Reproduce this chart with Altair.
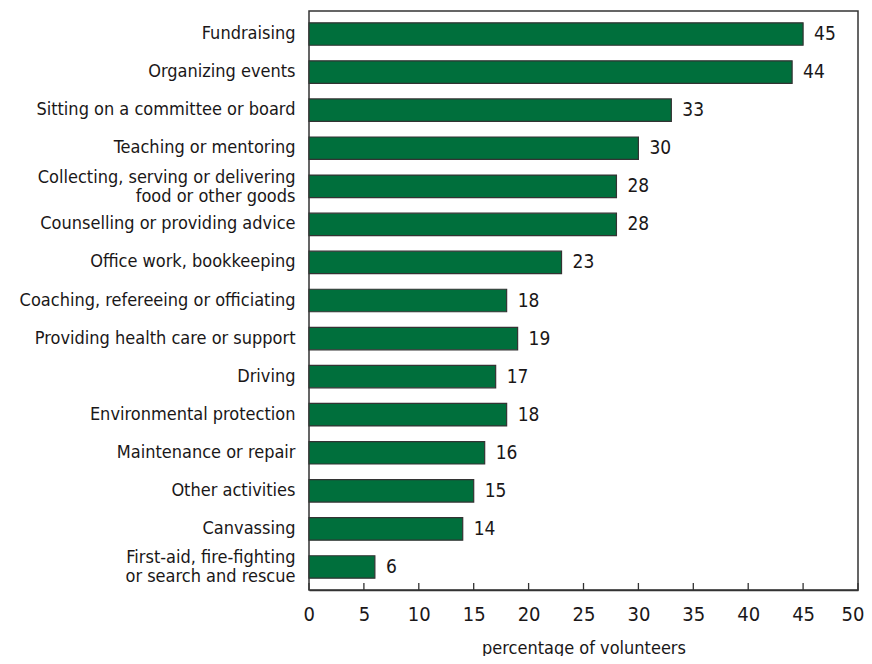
import altair as alt
import pandas as pd

activities = [
    "Fundraising",
    "Organizing events ",
    "Sitting on a committee or board",
    "Teaching or mentoring",
    "Collecting, serving or delivering|food or other goods",
    "Counselling or providing advice",
    "Office work, bookkeeping",
    "Coaching, refereeing or officiating",
    "Providing health care or support",
    "Driving",
    "Environmental protection",
    "Maintenance or repair",
    "Other activities",
    "Canvassing",
    "First-aid, fire-fighting|or search and rescue",
]
values = [45, 44, 33, 30, 28, 28, 23, 18, 19, 17, 18, 16, 15, 14, 6]
ticks = [0, 5, 10, 15, 20, 25, 30, 35, 40, 45, 50]

FONT = "DejaVu Sans Condensed"
TXT = "#1a1718"

df = pd.DataFrame({"activity": activities, "value": values})
tdf = pd.DataFrame({"t": ticks})

xscale = alt.Scale(domain=[0, 50], nice=False, zero=True)
yscale = alt.Scale(paddingInner=0.41, paddingOuter=0.31)

bars = alt.Chart(df).mark_bar(color="#006f3c", stroke="#333333", strokeWidth=1.2).encode(
    x=alt.X("value:Q", scale=xscale,
            axis=alt.Axis(values=ticks, title="percentage of volunteers", grid=False,
                          tickSize=0, labelPadding=14, labelFontSize=20, labelFont=FONT,
                          labelColor=TXT, labelFlush=True, labelFlushOffset=6,
                          labelOverlap=False,
                          titleFont=FONT, titleFontSize=18, titleColor=TXT,
                          titleFontWeight="normal", titlePadding=15, domainColor="#333333",
                          domainWidth=1.5, labelFontWeight="normal")),
    y=alt.Y("activity:N", sort=None, scale=yscale, title=None,
            axis=alt.Axis(labelExpr="split(datum.label, '|')", ticks=False, domain=False,
                          labelPadding=14, labelFontSize=18, labelFont=FONT, labelColor=TXT,
                          labelLineHeight=19, labelLimit=400, labelFontWeight="normal",
                          labelOffset={"condition": {"test": "indexof(datum.label, '|') >= 0",
                                                     "value": -8.5},
                                       "value": 0})),
)

labels = alt.Chart(df).mark_text(align="left", baseline="middle", dx=11, fontSize=19,
                                 font=FONT, color=TXT, fontWeight="normal").encode(
    x=alt.X("value:Q", scale=xscale),
    y=alt.Y("activity:N", sort=None, scale=yscale),
    text="value:Q",
)

tickmarks = alt.Chart(tdf).mark_rule(color="#333333", strokeWidth=1.3).encode(
    x=alt.X("t:Q", scale=xscale),
    y=alt.value(572),
    y2=alt.value(579),
)

chart = alt.layer(bars, labels, tickmarks).properties(
    width=549, height=579,
    autosize=alt.AutoSizeParams(type="none"),
    padding={"left": 301, "top": 3, "right": 6, "bottom": 66},
).configure_view(stroke="#333333", strokeWidth=1.5)

chart.save("out.html", embed_options={"renderer": "svg", "actions": False})
